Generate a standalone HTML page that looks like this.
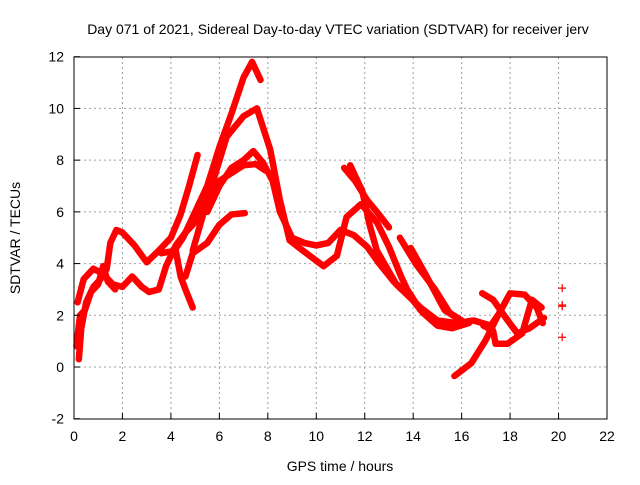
<!DOCTYPE html>
<html><head><meta charset="utf-8"><style>
body{margin:0;background:#fff}
svg{font-family:"Liberation Sans",sans-serif}
</style></head><body>
<svg id="chart" width="640" height="480" viewBox="0 0 640 480" xmlns="http://www.w3.org/2000/svg">
<rect width="640" height="480" fill="#fff"/>
<g id="grid"></g>
<g id="series"></g>
<rect x="74" y="57" width="533" height="362" fill="none" stroke="#000" stroke-width="1"/>
<g id="axes"></g>
<text x="338" y="34" font-size="14" text-anchor="middle">Day 071 of 2021, Sidereal Day-to-day VTEC variation (SDTVAR) for receiver jerv</text>
<text x="340" y="471" font-size="14" text-anchor="middle">GPS time / hours</text>
<text x="20" y="238" font-size="14" text-anchor="middle" transform="rotate(-90 20 238)">SDTVAR / TECUs</text>
</svg>
<script>
const xTicks=[0,2,4,6,8,10,12,14,16,18,20,22];
const yTicks=[-2,0,2,4,6,8,10,12];
const trackA=[[0.2,0.3],[0.3,1.5],[0.5,2.5],[0.8,3.1],[1.1,3.4],[1.35,3.8],[1.5,4.8],[1.75,5.3],[2.0,5.2],[2.5,4.7],[3.0,4.05],[3.5,4.5],[4.0,5.0],[4.4,5.9],[4.75,7.0],[5.1,8.2]];
const trackB=[[0.15,2.5],[0.4,3.4],[0.8,3.8],[1.2,3.6],[1.6,3.2],[2.0,3.1],[2.4,3.5],[2.8,3.1],[3.1,2.9],[3.5,3.0],[3.8,3.9],[4.2,4.7],[4.6,5.2],[5.0,5.6],[5.5,6.5],[6.0,7.2],[6.5,7.5],[7.0,7.8],[7.5,7.85],[7.9,7.6]];
const trackN=[[0.1,0.8],[0.25,2.0],[0.45,2.2],[0.7,2.9],[1.0,3.2],[1.2,3.9],[1.4,3.3],[1.7,3.0]];
const trackC=[[3.6,4.4],[4.2,4.5],[4.4,3.5],[4.6,3.0],[4.9,2.3]];
const trackD=[[4.0,4.3],[4.5,5.0],[5.0,6.0],[5.5,7.0],[6.0,8.5],[6.5,9.8],[7.0,11.2],[7.35,11.8],[7.7,11.1]];
const trackE=[[4.9,4.5],[5.5,6.45],[6.3,8.9],[7.0,9.7],[7.55,10.0],[8.1,8.4],[8.5,6.45],[8.9,4.9],[9.45,4.5],[10.3,3.9],[10.85,4.3],[11.25,5.8],[11.85,6.3],[12.5,5.6],[13.0,4.65],[13.5,3.5],[13.75,3.0],[14.3,2.2],[15.0,1.8],[15.8,1.7],[16.5,1.8],[17.2,1.6],[17.5,2.0]];
const trackF=[[4.6,3.5],[4.9,4.4],[5.5,4.8],[6.0,5.5],[6.5,5.9],[7.05,5.95]];
const trackG=[[5.5,6.0],[6.0,7.0],[6.5,7.7],[7.0,8.0],[7.4,8.35],[7.8,7.9],[8.2,7.2],[8.5,6.0],[9.0,5.0],[9.5,4.8],[10.0,4.7],[10.5,4.8],[11.0,5.3],[11.55,5.1],[12.1,4.65],[12.6,4.0],[13.2,3.3],[13.8,2.8],[14.4,2.1],[15.0,1.6],[15.6,1.5],[16.3,1.7]];
const trackH=[[11.15,7.7],[11.6,7.2],[12.1,6.45],[12.5,6.0],[13.0,5.4]];
const trackI=[[11.4,7.8],[11.9,6.8],[12.2,5.5],[12.5,4.5],[13.3,3.2],[14.3,2.3],[15.0,1.8]];
const trackJ=[[13.45,5.0],[14.1,4.0],[14.9,3.0],[15.5,2.1],[16.0,1.8]];
const trackK=[[13.9,4.6],[14.5,3.6],[15.3,2.2],[15.8,1.9]];
const trackL=[[15.7,-0.35],[16.4,0.15],[17.0,1.05],[17.5,2.0],[18.0,2.85],[18.6,2.8],[19.1,2.3],[19.35,1.7]];
const trackM=[[16.85,2.85],[17.3,2.6],[17.6,2.2],[17.9,1.8],[18.3,1.3],[18.8,1.5],[19.4,1.9]];
const trackP=[[16.9,1.6],[17.3,1.4],[17.4,0.9],[17.9,0.9],[18.5,1.3],[18.9,2.6],[19.3,2.3]];
const isolated=[[20.15,3.05],[20.15,2.4],[20.15,2.35],[20.15,1.15]];
const tracks=[trackA,trackB,trackN,trackC,trackD,trackE,trackF,trackG,trackH,trackI,trackJ,trackK,trackL,trackM,trackP];

const X=h=>74+h*(533/22);
const Y=v=>367-v*(362/14);
const NS="http://www.w3.org/2000/svg";
const grid=document.getElementById('grid'),axes=document.getElementById('axes'),ser=document.getElementById('series');
function mk(t,a,p){const e=document.createElementNS(NS,t);for(const k in a)e.setAttribute(k,a[k]);p.appendChild(e);return e;}
xTicks.forEach(t=>{
  const x=X(t);
  if(t>0&&t<22){const l=mk('line',{x1:x,x2:x,y1:57,y2:419,stroke:'#a0a0a0','stroke-dasharray':'2,3'},grid);
  
  }
  const tk=mk('line',{x1:x,x2:x,y1:419,y2:413,stroke:'#000'},axes);
  
  
  const tx=mk('text',{x:x,y:441,'font-size':14,'text-anchor':'middle'},axes);tx.textContent=t;
  
  
});
yTicks.forEach(t=>{
  const y=Y(t);
  if(t>-2&&t<12){const l=mk('line',{x1:74,x2:607,y1:y,y2:y,stroke:'#a0a0a0','stroke-dasharray':'2,3'},grid);
  
  }
  const tk=mk('line',{x1:74,x2:80,y1:y,y2:y,stroke:'#000'},axes);
  
  
  const tx=mk('text',{x:64,y:y+5,'font-size':14,'text-anchor':'end'},axes);tx.textContent=t;
  
  
});
tracks.forEach(tr=>{
  const p=mk('polyline',{points:tr.map(d=>X(d[0])+','+Y(d[1])).join(' '),fill:'none',stroke:'#f00','stroke-width':6.5,'stroke-linejoin':'round','stroke-linecap':'round'},ser);
  
  
});
isolated.forEach(d=>{
  const x=X(d[0]),y=Y(d[1]);
  const p=mk('path',{d:`M${x-4},${y}H${x+4}M${x},${y-4}V${y+4}`,stroke:'#f00','stroke-width':1.2},ser);
  
  
});
</script>
</body></html>
